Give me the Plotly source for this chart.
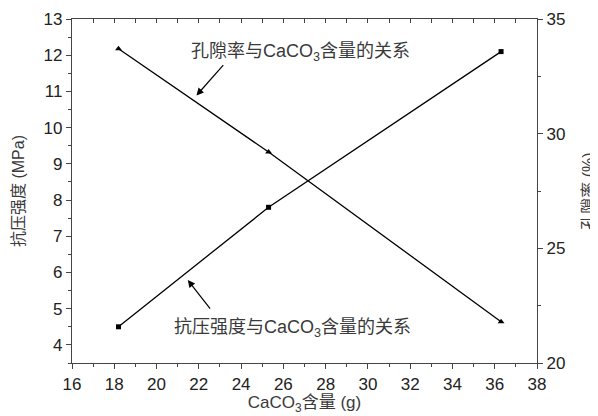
import plotly.graph_objects as go

caco3 = [18.2, 25.3, 36.3]
strength = [4.5, 7.8, 12.1]
porosity = [33.7, 29.2, 21.8]

FONT = "Liberation Sans, Arial, Noto Sans CJK SC, sans-serif"
TXT = "#3a3a3a"

fig = go.Figure()
fig.add_trace(go.Scatter(x=caco3, y=strength, mode="lines+markers",
                         line=dict(color="black", width=1.3),
                         marker=dict(symbol="square", size=5, color="black"),
                         yaxis="y", showlegend=False))
fig.add_trace(go.Scatter(x=caco3, y=porosity, mode="lines+markers",
                         line=dict(color="black", width=1.3),
                         marker=dict(symbol="triangle-up", size=6, color="black"),
                         yaxis="y2", showlegend=False))
fig.add_trace(go.Scatter(x=[16, 38], y=[None, None], xaxis="x2", yaxis="y",
                         showlegend=False, hoverinfo="skip"))

axcol = "#444444"
# page body has an 8px default margin, so the figure is drawn 8px in from top-left
fig.update_layout(
    width=590, height=408,
    margin=dict(l=64, r=61, t=11, b=53, autoexpand=False),
    paper_bgcolor="white", plot_bgcolor="white",
    font=dict(family=FONT, size=17, color="#222222"),
    xaxis=dict(range=[16, 38], dtick=2, tick0=16, ticks="outside", ticklen=5,
               tickwidth=1, tickcolor=axcol, showline=True, linecolor=axcol, linewidth=1.2,
               showgrid=False, zeroline=False, automargin=False,
               minor=dict(dtick=1, ticks="outside", ticklen=3, tickcolor=axcol),
               title=dict(text="CaCO<sub>3</sub>含量 (g)", standoff=3,
                          font=dict(size=17, color=TXT))),
    xaxis2=dict(range=[16, 38], overlaying="x", side="top", dtick=2, tick0=16,
                ticks="inside", ticklen=4, tickcolor=axcol, showticklabels=False,
                showline=True, linecolor=axcol, linewidth=1.2, showgrid=False,
                zeroline=False, automargin=False,
                minor=dict(dtick=1, ticks="inside", ticklen=4, tickcolor=axcol)),
    yaxis=dict(range=[3.5, 13], dtick=1, tick0=4, ticks="outside", ticklen=5,
               tickcolor=axcol, showline=True, linecolor=axcol, linewidth=1.2,
               showgrid=False, zeroline=False, automargin=False,
               minor=dict(dtick=0.5, ticks="outside", ticklen=3, tickcolor=axcol),
               title=dict(text="抗压强度 (MPa)", standoff=14,
                          font=dict(size=16, color=TXT))),
    yaxis2=dict(range=[20, 35], dtick=5, tick0=20, overlaying="y", side="right",
                ticks="outside", ticklen=5, tickcolor=axcol, showline=True,
                linecolor=axcol, linewidth=1.2, showgrid=False, zeroline=False,
                automargin=False,
                minor=dict(dtick=2.5, ticks="outside", ticklen=3, tickcolor=axcol),
                title=dict(text="孔隙率 (%)", standoff=18,
                           font=dict(size=16, color=TXT))),
)

fig.add_annotation(x=26.82, y=12.08, xref="x", yref="y",
                   text="孔隙率与CaCO<sub>3</sub>含量的关系", showarrow=False,
                   font=dict(size=18, color=TXT))
fig.add_annotation(x=26.44, y=4.46, xref="x", yref="y",
                   text="抗压强度与CaCO<sub>3</sub>含量的关系", showarrow=False,
                   font=dict(size=18, color=TXT))
fig.add_annotation(x=21.89, y=10.89, xref="x", yref="y", ax=23.22, ay=11.77,
                   axref="x", ayref="y", text="", showarrow=True,
                   arrowhead=2, arrowsize=1.2, arrowwidth=1.2, arrowcolor="black")
fig.add_annotation(x=21.48, y=5.79, xref="x", yref="y", ax=22.59, ay=4.96,
                   axref="x", ayref="y", text="", showarrow=True,
                   arrowhead=2, arrowsize=1.2, arrowwidth=1.2, arrowcolor="black")

fig.write_html("out.html")
